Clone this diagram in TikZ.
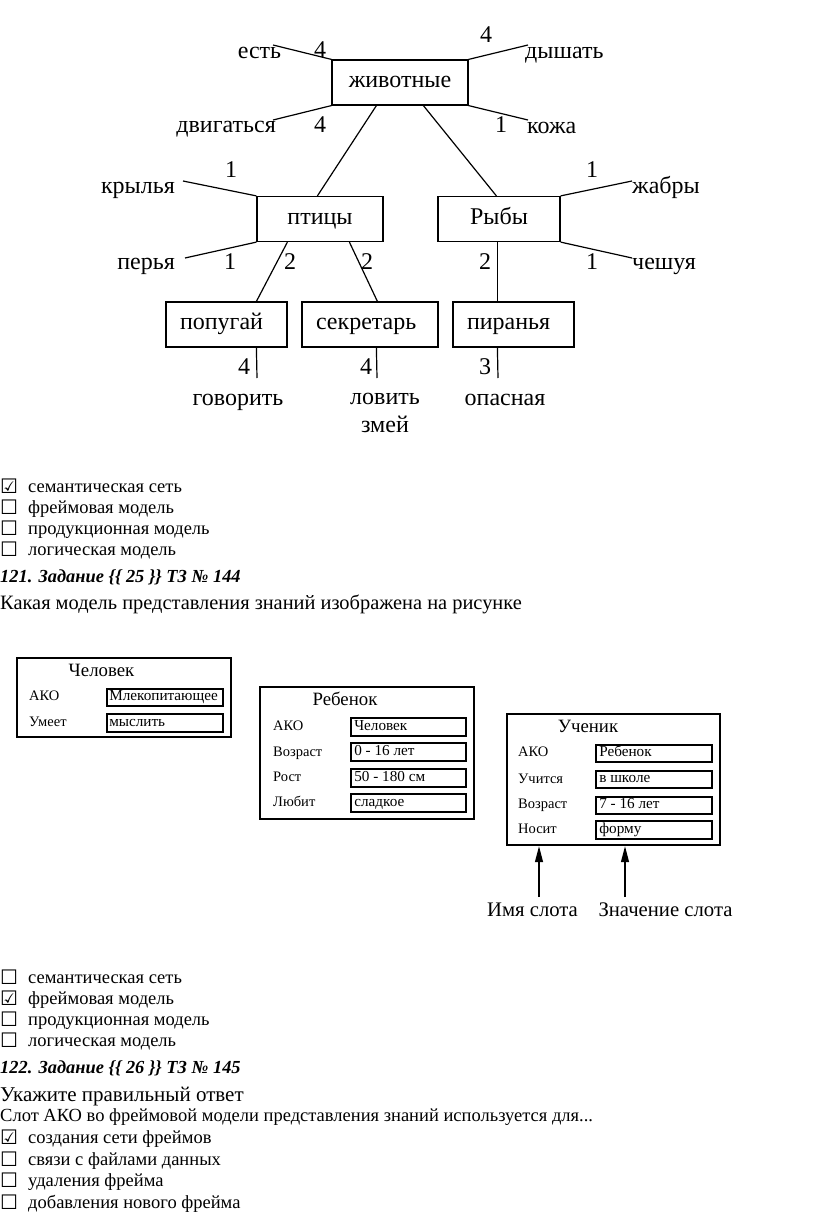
\documentclass[tikz,border=0pt]{standalone}
\usepackage{fontspec}
\setmainfont{Liberation Serif}
\newfontfamily\djv{DejaVu Sans}
\usetikzlibrary{arrows.meta}
\begin{document}
\begin{tikzpicture}[x=1pt,y=-1pt,
  fs/.style={inner sep=0pt, font=\fontsize{#1}{#1}\selectfont, text height={0.7*#1pt}, text depth={0.25*#1pt}},
  netf/.style={fs=24},
  nbox/.style={draw, line width=1.2pt, minimum height=45pt, netf},
  cbox/.style={nbox, align=center},
  lbox/.style={nbox, inner xsep=14pt, align=left},
  ln/.style={line width=1.2pt},
  nlab/.style={netf},
  lst/.style={fs=18.5},
  chk/.style={inner sep=0pt, font=\djv\fontsize{20}{20}\selectfont, text height=14pt, text depth=4pt},
  head/.style={fs=18.4, font=\fontsize{18.4}{18.4}\selectfont\bfseries\itshape},
  big/.style={fs=20.4},
  frame/.style={draw, line width=2.4pt, inner sep=0pt},
  vbox/.style={draw, line width=1.8pt, inner sep=0pt},
  ftitle/.style={fs=18.8},
  fslot/.style={fs=14.5},
  fval/.style={fs=15.2}
]
\useasboundingbox (0,0) rectangle (816,1215);
\fill[white] (0,0) rectangle (816,1215);

% ---------------- semantic network ----------------
\node[cbox, minimum width=136pt] (zhiv) at (400,82.5) {животные};
\node[cbox, minimum width=126pt] (ptic) at (320,219) {птицы};
\node[cbox, minimum width=122pt] (ryby) at (499,219) {Рыбы};
\node[lbox, text width=93pt] (popug) at (226.5,324.5) {попугай};
\node[lbox, text width=108pt] (sekr) at (370,324.5) {секретарь};
\node[lbox, text width=93pt] (piran) at (513.5,324.5) {пиранья};

\coordinate (eEst) at (273,45);
\coordinate (eDysh) at (528,45);
\coordinate (eDvig) at (273,120);
\coordinate (eKozh) at (528,120);
\coordinate (eKryl) at (183,181);
\coordinate (ePer) at (185,258);
\coordinate (eZhab) at (632,181);
\coordinate (eChes) at (632,258);
\coordinate (eGov) at (257,378);
\coordinate (eLov) at (377,378);
\coordinate (eOpas) at (498,378);

\draw[ln] (zhiv.north west) -- (eEst);
\draw[ln] (zhiv.north east) -- (eDysh);
\draw[ln] (zhiv.south west) -- (eDvig);
\draw[ln] (zhiv.south east) -- (eKozh);
\draw[ln] ([xshift=45pt]zhiv.south west) -- ([xshift=61pt]ptic.north west);
\draw[ln] ([xshift=92pt]zhiv.south west) -- ([xshift=59pt]ryby.north west);
\draw[ln] (ptic.north west) -- (eKryl);
\draw[ln] (ptic.south west) -- (ePer);
\draw[ln] (ryby.north east) -- (eZhab);
\draw[ln] (ryby.south east) -- (eChes);
\draw[ln] ([xshift=31pt]ptic.south west) -- ([xshift=91pt]popug.north west);
\draw[ln] ([xshift=93pt]ptic.south west) -- ([xshift=76pt]sekr.north west);
\draw[ln] ([xshift=60pt]ryby.south west) -- ([xshift=45pt]piran.north west);
\draw[ln] ([xshift=91pt]popug.south west) -- (eGov);
\draw[ln] ([xshift=75pt]sekr.south west) -- (eLov);
\draw[ln] ([xshift=45pt]piran.south west) -- (eOpas);

\node[nlab] (lEst) at (259.5,53) {есть};
\node[nlab] (nEst) at (320,52) {4};
\node[nlab, anchor=west] (lDysh) at (525,53) {дышать};
\node[nlab] (nDysh) at (486,37) {4};
\node[nlab, anchor=east] (lDvig) at (276,127) {двигаться};
\node[nlab] (nDvig) at (320,127) {4};
\node[nlab, anchor=west] (lKozh) at (527,128) {кожа};
\node[nlab] (nKozh) at (501,127) {1};
\node[nlab, anchor=east] (lKryl) at (175,188) {крылья};
\node[nlab] (nKryl) at (231,172) {1};
\node[nlab, anchor=east] (lPer) at (175,264) {перья};
\node[nlab] (nPer) at (230,264) {1};
\node[nlab, anchor=west] (lZhab) at (632,188) {жабры};
\node[nlab] (nZhab) at (592,172) {1};
\node[nlab, anchor=west] (lChes) at (632,264) {чешуя};
\node[nlab] (nChes) at (592,264) {1};
\node[nlab] (nPP) at (290,264) {2};
\node[nlab] (nPS) at (367,264) {2};
\node[nlab] (nRP) at (485,264) {2};
\node[nlab] (nGov) at (244,369) {4};
\node[nlab] (lGov) at (238,400) {говорить};
\node[nlab] (nLov) at (366,369) {4};
\node[nlab] (lLov) at (385,399) {ловить};
\node[nlab] (lZmei) at (385,427) {змей};
\node[nlab] (nOpas) at (485,369) {3};
\node[nlab] (lOpas) at (505,400) {опасная};

% ---------------- first answer list ----------------
\node[chk] (c1a) at (9,488) {☑};
\node[chk] (c1b) at (9,509) {☐};
\node[chk] (c1c) at (9,530) {☐};
\node[chk] (c1d) at (9,551) {☐};
\node[lst, anchor=west] (a1a) at (28,488) {семантическая сеть};
\node[lst, anchor=west] (a1b) at (28,509) {фреймовая модель};
\node[lst, anchor=west] (a1c) at (28,530) {продукционная модель};
\node[lst, anchor=west] (a1d) at (28,551) {логическая модель};
\node[head, anchor=west] (h121) at (0,578) {121. Задание \{\{ 25 \}\} ТЗ № 144};
\node[big, anchor=west] (q121) at (0,605) {Какая модель представления знаний изображена на рисунке};

% ---------------- frames ----------------
\node[frame, minimum width=214pt, minimum height=79pt] (f1) at (124,697.5) {};
\node[ftitle] (f1t) at (101.5,672) {Человек};
\node[fslot, anchor=west] (f1l1) at (29,697) {АКО};
\node[fslot, anchor=west] (f1l2) at (29,723) {Умеет};
\node[vbox, minimum width=116pt, minimum height=17pt] (f1v1) at (165,697.5) {};
\node[vbox, minimum width=116pt, minimum height=18pt] (f1v2) at (165,723) {};
\node[fval, anchor=west] at ([xshift=3pt]f1v1.west) {Млекопитающее};
\node[fval, anchor=west] at ([xshift=3pt]f1v2.west) {мыслить};

\node[frame, minimum width=214pt, minimum height=132pt] (f2) at (367,753) {};
\node[ftitle] (f2t) at (345,701) {Ребенок};
\node[fslot, anchor=west] (f2l1) at (273,727) {АКО};
\node[fslot, anchor=west] (f2l2) at (273,753) {Возраст};
\node[fslot, anchor=west] (f2l3) at (273,778) {Рост};
\node[fslot, anchor=west] (f2l4) at (273,803) {Любит};
\node[vbox, minimum width=115pt, minimum height=18pt] (f2v1) at (408.5,727) {};
\node[vbox, minimum width=115pt, minimum height=18pt] (f2v2) at (408.5,752) {};
\node[vbox, minimum width=115pt, minimum height=18pt] (f2v3) at (408.5,778) {};
\node[vbox, minimum width=115pt, minimum height=18pt] (f2v4) at (408.5,803) {};
\node[fval, anchor=west] at ([xshift=4pt]f2v1.west) {Человек};
\node[fval, anchor=west] at ([xshift=4pt]f2v2.west) {0 - 16 лет};
\node[fval, anchor=west] at ([xshift=4pt]f2v3.west) {50 - 180 см};
\node[fval, anchor=west] at ([xshift=4pt]f2v4.west) {сладкое};

\node[frame, minimum width=213pt, minimum height=131pt] (f3) at (613.5,779.5) {};
\node[ftitle] (f3t) at (588,728) {Ученик};
\node[fslot, anchor=west] (f3l1) at (518,753) {АКО};
\node[fslot, anchor=west] (f3l2) at (518,780) {Учится};
\node[fslot, anchor=west] (f3l3) at (518,805) {Возраст};
\node[fslot, anchor=west] (f3l4) at (518,830) {Носит};
\node[vbox, minimum width=116pt, minimum height=17pt] (f3v1) at (654,753.5) {};
\node[vbox, minimum width=116pt, minimum height=17pt] (f3v2) at (654,779.5) {};
\node[vbox, minimum width=116pt, minimum height=17pt] (f3v3) at (654,805.5) {};
\node[vbox, minimum width=116pt, minimum height=18pt] (f3v4) at (654,830) {};
\node[fval, anchor=west] at ([xshift=4pt]f3v1.west) {Ребенок};
\node[fval, anchor=west] at ([xshift=4pt]f3v2.west) {в школе};
\node[fval, anchor=west] at ([xshift=4pt]f3v3.west) {7 - 16 лет};
\node[fval, anchor=west] at ([xshift=4pt]f3v4.west) {форму};

\coordinate (arA) at (539,897);
\coordinate (arB) at (625,897);
\draw[line width=1.3pt, -{Triangle[length=16pt,width=8pt]}] (arA) -- (arA |- f3.south);
\draw[line width=1.3pt, -{Triangle[length=16pt,width=8pt]}] (arB) -- (arB |- f3.south);
\node[big, fs=20.7] (lName) at (532.5,912) {Имя слота};
\node[big, fs=20.7] (lVal) at (665.5,912) {Значение слота};

% ---------------- second answer list ----------------
\node[chk] (c2a) at (9,979) {☐};
\node[chk] (c2b) at (9,1000) {☑};
\node[chk] (c2c) at (9,1021) {☐};
\node[chk] (c2d) at (9,1042) {☐};
\node[lst, anchor=west] (a2a) at (28,979) {семантическая сеть};
\node[lst, anchor=west] (a2b) at (28,1000) {фреймовая модель};
\node[lst, anchor=west] (a2c) at (28,1021) {продукционная модель};
\node[lst, anchor=west] (a2d) at (28,1042) {логическая модель};
\node[head, anchor=west] (h122) at (0,1069) {122. Задание \{\{ 26 \}\} ТЗ № 145};
\node[big, fs=21, anchor=west] (q122a) at (0,1097) {Укажите правильный ответ};
\node[lst, anchor=west] (q122b) at (0,1117) {Слот АКО во фреймовой модели представления знаний используется для...};

% ---------------- third answer list ----------------
\node[chk] (c3a) at (9,1139) {☑};
\node[chk] (c3b) at (9,1161) {☐};
\node[chk] (c3c) at (9,1182) {☐};
\node[chk] (c3d) at (9,1204) {☐};
\node[lst, anchor=west] (a3a) at (28,1139) {создания сети фреймов};
\node[lst, anchor=west] (a3b) at (28,1161) {связи с файлами данных};
\node[lst, anchor=west] (a3c) at (28,1182) {удаления фрейма};
\node[lst, anchor=west] (a3d) at (28,1204) {добавления нового фрейма};
\end{tikzpicture}
\end{document}
